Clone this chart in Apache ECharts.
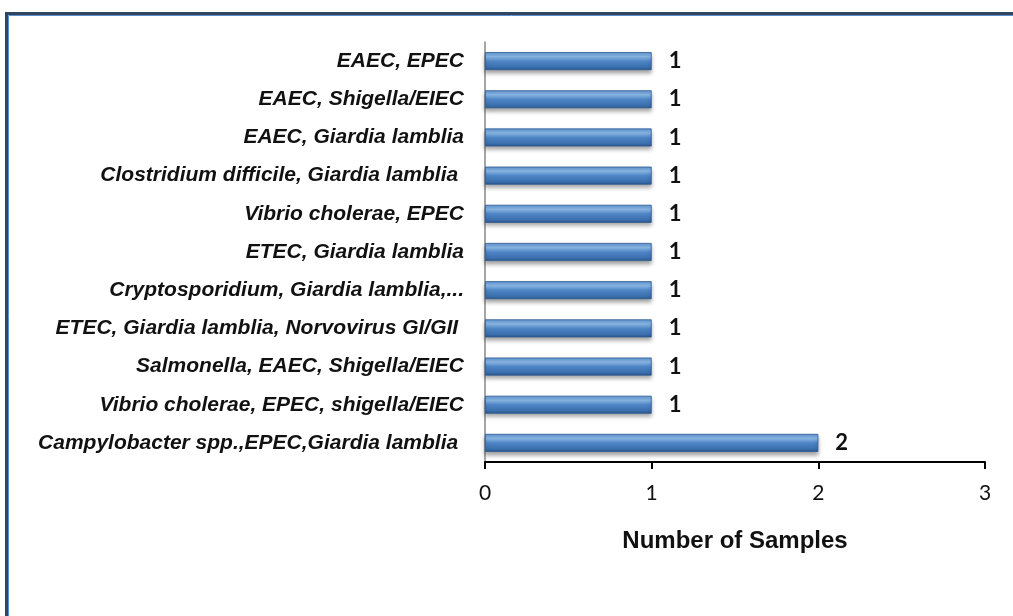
<!DOCTYPE html>
<html><head><meta charset="utf-8">
<script src="https://cdn.jsdelivr.net/npm/echarts@6/dist/echarts.min.js"></script>
<style>html,body{margin:0;padding:0;background:#fff}#c{width:1013px;height:616px}</style>
</head><body><div id="c"></div>
<script>
const categories = [
  "EAEC, EPEC",
  "EAEC, Shigella/EIEC",
  "EAEC, Giardia lamblia",
  "Clostridium difficile, Giardia lamblia ",
  "Vibrio cholerae, EPEC",
  "ETEC, Giardia lamblia",
  "Cryptosporidium, Giardia lamblia,...",
  "ETEC, Giardia lamblia, Norvovirus GI/GII ",
  "Salmonella, EAEC, Shigella/EIEC",
  "Vibrio cholerae, EPEC, shigella/EIEC",
  "Campylobacter spp.,EPEC,Giardia lamblia "
];
const values = [1,1,1,1,1,1,1,1,1,1,2];
const xTicks = [0,1,2,3];

const chart = echarts.init(document.getElementById('c'), null, {renderer:'canvas'});
chart.setOption({
  animation:false,
  backgroundColor:'#fff',
  graphic:[
    {type:'rect', shape:{x:6.5,y:13.5,width:1020,height:620}, style:{fill:'none', stroke:'#2f4560', lineWidth:3}, z:100},
    {type:'rect', shape:{x:8.5,y:15.5,width:1020,height:620}, style:{fill:'none', stroke:'#5b8fd0', lineWidth:1}, z:100}
  ],
  grid:{left:485, right:28, top:42, bottom:154, containLabel:false},
  xAxis:{
    type:'value', min:0, max:3, interval:1,
    axisLine:{show:true, lineStyle:{color:'#000', width:2}},
    axisTick:{show:true, length:7, lineStyle:{color:'#000', width:2}},
    splitLine:{show:false},
    axisLabel:{fontFamily:'Lato', fontSize:21, color:'#111', margin:21,
      formatter:v=>String(xTicks[xTicks.indexOf(v)] ?? v)},
    name:'Number of Samples', nameLocation:'middle', nameGap:67,
    nameTextStyle:{fontFamily:'Liberation Sans', fontWeight:'bold', fontSize:24, color:'#111'}
  },
  yAxis:{
    type:'category', data:categories, inverse:true,
    axisLine:{show:true, lineStyle:{color:'#888', width:1.5}},
    axisTick:{show:false},
    axisLabel:{fontFamily:'Liberation Sans', fontWeight:'bold', fontStyle:'italic', fontSize:21, color:'#111', margin:21}
  },
  series:[{
    type:'bar', data:values, barWidth:18,
    itemStyle:{
      color:new echarts.graphic.LinearGradient(0,0,0,1,[
        {offset:0, color:'#5d93d2'},
        {offset:0.25, color:'#8dbbe9'},
        {offset:0.5, color:'#4f86c6'},
        {offset:0.85, color:'#3a6ead'},
        {offset:1, color:'#2a5488'}
      ]),
      borderColor:'#2d5a92', borderWidth:0.8,
      shadowColor:'rgba(0,0,0,0.35)', shadowBlur:4, shadowOffsetY:3
    },
    label:{show:true, position:'right', distance:17, fontFamily:'Lato', fontWeight:'bold', fontSize:22, color:'#111'}
  }]
});
</script></body></html>
